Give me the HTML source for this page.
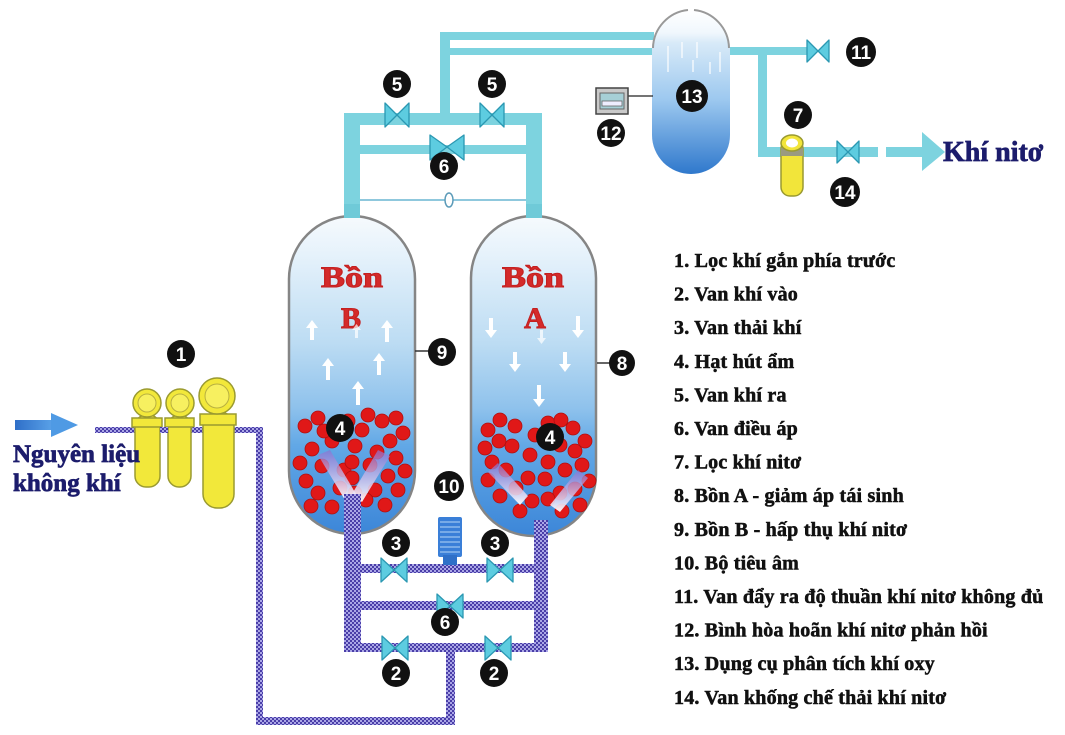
<!DOCTYPE html>
<html><head><meta charset="utf-8"><style>
html,body{margin:0;padding:0;background:#fff;}
svg{display:block;}
.lg{font-family:"Liberation Serif",serif;font-weight:bold;font-size:20px;fill:#111;stroke:#111;stroke-width:0.55;letter-spacing:0.2px;}
.n{font-family:"Liberation Sans",sans-serif;font-weight:bold;font-size:19px;fill:#fff;text-anchor:middle;}
.ttl{font-family:"Liberation Serif",serif;font-weight:bold;fill:#1c1c6c;stroke:#1c1c6c;stroke-width:0.7;}
.red{font-family:"Liberation Serif",serif;font-weight:bold;font-size:30px;fill:#d42a2a;stroke:#c42020;stroke-width:1;text-anchor:middle;}
</style></head><body>
<svg width="1065" height="735" viewBox="0 0 1065 735" xmlns="http://www.w3.org/2000/svg">
<defs>
<pattern id="chk" width="4" height="4" patternUnits="userSpaceOnUse">
<rect width="4" height="4" fill="#4a3ea8"/>
<rect x="0" y="0" width="2" height="2" fill="#aaa6e6"/>
<rect x="2" y="2" width="2" height="2" fill="#aaa6e6"/>
</pattern>
<linearGradient id="tg" x1="0" y1="0" x2="0" y2="1">
<stop offset="0" stop-color="#f6fafd"/>
<stop offset="0.12" stop-color="#e6f2fb"/>
<stop offset="0.4" stop-color="#bcdcf3"/>
<stop offset="0.6" stop-color="#8fc2ec"/>
<stop offset="0.72" stop-color="#62a8e6"/>
<stop offset="1" stop-color="#3c86d8"/>
</linearGradient>
<linearGradient id="tg13" x1="0" y1="0" x2="0" y2="1">
<stop offset="0" stop-color="#ffffff"/>
<stop offset="0.14" stop-color="#f0f7fd"/>
<stop offset="0.2" stop-color="#d8eaf8"/>
<stop offset="0.55" stop-color="#9cc8ef"/>
<stop offset="1" stop-color="#2f78cc"/>
</linearGradient>
<linearGradient id="ba" x1="0" y1="0" x2="1" y2="0">
<stop offset="0" stop-color="#2f6fc8"/>
<stop offset="1" stop-color="#5aa2e8"/>
</linearGradient>
<linearGradient id="va" x1="0" y1="1" x2="0" y2="0">
<stop offset="0" stop-color="#ffffff" stop-opacity="0.95"/>
<stop offset="1" stop-color="#8a70d0" stop-opacity="0.7"/>
</linearGradient>
</defs>

<!-- ===== Top cyan pipes ===== -->
<g fill="#7dd3df">
<rect x="440" y="32" width="214" height="8"/>
<rect x="450" y="48" width="204" height="7"/>
<rect x="440" y="32" width="10" height="88"/>
<rect x="344" y="113" width="198" height="12"/>
<rect x="344" y="145" width="198" height="9"/>
<rect x="344" y="113" width="16" height="106"/>
<rect x="526" y="113" width="16" height="106"/>
<rect x="728" y="47" width="82" height="8"/>
<rect x="758" y="47" width="9" height="110"/>
<rect x="758" y="147" width="120" height="10"/>
<rect x="886" y="147" width="38" height="10"/>
<polygon points="922,132 945,152 922,171"/>
</g>
<line x1="360" y1="200" x2="526" y2="200" stroke="#6ab6d2" stroke-width="1.5"/>
<ellipse cx="449" cy="200" rx="4" ry="7" fill="#fff" stroke="#5a9ab8" stroke-width="1.5"/>

<!-- ===== Tank 13 ===== -->
<rect x="652" y="10" width="78" height="164" rx="39" fill="url(#tg13)"/>
<path d="M653,48 A39,39 0 0 1 688,10" fill="none" stroke="#999" stroke-width="2"/>
<path d="M694,10 A39,39 0 0 1 729,48" fill="none" stroke="#999" stroke-width="2"/>
<g stroke="#fff" stroke-width="1.5" opacity="0.8">
<line x1="668" y1="46" x2="668" y2="72"/><line x1="682" y1="42" x2="682" y2="58"/>
<line x1="697" y1="42" x2="697" y2="58"/><line x1="710" y1="62" x2="710" y2="74"/>
<line x1="720" y1="52" x2="720" y2="72"/><line x1="693" y1="60" x2="693" y2="72"/>
</g>

<!-- Box 12 -->
<line x1="628" y1="96" x2="653" y2="96" stroke="#222" stroke-width="1.3"/>
<rect x="596" y="88" width="32" height="26" fill="#c9c9c9" stroke="#444" stroke-width="1.5"/>
<rect x="600" y="93" width="24" height="16" fill="#a6cfd6" stroke="#666" stroke-width="1"/>
<rect x="602" y="101" width="20" height="5" fill="#eef" stroke="#666" stroke-width="0.8"/>

<!-- Filter 7 -->
<rect x="781" y="140" width="22" height="56" rx="9" fill="#f2e53a" stroke="#9a9a30" stroke-width="1.5"/>
<rect x="781" y="148" width="22" height="8" fill="#9a9a80"/>
<ellipse cx="792" cy="143" rx="11" ry="8" fill="#f2e53a" stroke="#9a9a30" stroke-width="1.5"/>
<ellipse cx="792" cy="143" rx="6" ry="4.5" fill="#fff"/>

<!-- ===== Tanks ===== -->
<rect x="289" y="216" width="126" height="318" rx="63" fill="url(#tg)" stroke="#858585" stroke-width="2.5"/>
<rect x="471" y="216" width="125" height="320" rx="62" fill="url(#tg)" stroke="#858585" stroke-width="2.5"/>
<rect x="344" y="204" width="16" height="14" fill="#6fcad8"/>
<rect x="526" y="204" width="16" height="14" fill="#6fcad8"/>

<!-- label lines 9, 8 -->
<line x1="415" y1="351" x2="432" y2="351" stroke="#333" stroke-width="1.5"/>
<line x1="597" y1="363" x2="610" y2="363" stroke="#333" stroke-width="1.5"/>

<!-- tank text -->
<text x="352" y="287" class="red" textLength="62" lengthAdjust="spacingAndGlyphs">Bồn</text>
<text x="351" y="328" class="red">B</text>
<text x="533" y="287" class="red" textLength="62" lengthAdjust="spacingAndGlyphs">Bồn</text>
<text x="535" y="328" class="red">A</text>

<!-- white arrows tank B (up) -->
<g fill="#fff">
<path d="M310,340 h4 v-12 h4 l-6,-8 l-6,8 h4z"/>
<path d="M385,342 h4 v-14 h4 l-6,-8 l-6,8 h4z"/>
<path d="M326,380 h4 v-14 h4 l-6,-8 l-6,8 h4z"/>
<path d="M377,375 h4 v-14 h4 l-6,-8 l-6,8 h4z"/>
<path d="M356,405 h4 v-16 h4 l-6,-8 l-6,8 h4z"/>
<path d="M355,338 h3 v-8 h3 l-4.5,-6 l-4.5,6 h3z" opacity="0.7"/>
</g>
<!-- white arrows tank A (down) -->
<g fill="#fff">
<path d="M489,318 h4 v12 h4 l-6,8 l-6,-8 h4z"/>
<path d="M576,316 h4 v14 h4 l-6,8 l-6,-8 h4z"/>
<path d="M513,352 h4 v12 h4 l-6,8 l-6,-8 h4z"/>
<path d="M563,352 h4 v12 h4 l-6,8 l-6,-8 h4z"/>
<path d="M537,385 h4 v14 h4 l-6,8 l-6,-8 h4z"/>
<path d="M540,330 h3 v8 h3 l-4.5,6 l-4.5,-6 h3z" opacity="0.7"/>
</g>

<!-- beads -->
<g fill="#e01818" stroke="#b01010" stroke-width="0.8">
<circle cx="305" cy="426" r="7"/><circle cx="318" cy="418" r="7"/><circle cx="332" cy="441" r="7"/>
<circle cx="312" cy="449" r="7"/><circle cx="300" cy="463" r="7"/><circle cx="322" cy="466" r="7"/>
<circle cx="306" cy="481" r="7"/><circle cx="318" cy="493" r="7"/><circle cx="332" cy="507" r="7"/>
<circle cx="344" cy="470" r="7"/><circle cx="355" cy="446" r="7"/><circle cx="362" cy="430" r="7"/>
<circle cx="368" cy="415" r="7"/><circle cx="382" cy="421" r="7"/><circle cx="396" cy="418" r="7"/>
<circle cx="403" cy="433" r="7"/><circle cx="390" cy="441" r="7"/><circle cx="377" cy="452" r="7"/>
<circle cx="396" cy="458" r="7"/><circle cx="405" cy="471" r="7"/><circle cx="388" cy="476" r="7"/>
<circle cx="375" cy="490" r="7"/><circle cx="398" cy="490" r="7"/><circle cx="385" cy="505" r="7"/>
<circle cx="366" cy="500" r="7"/><circle cx="352" cy="462" r="7"/><circle cx="352" cy="478" r="7"/>
<circle cx="355" cy="493" r="7"/><circle cx="340" cy="488" r="7"/><circle cx="370" cy="465" r="7"/>
<circle cx="324" cy="431" r="7"/><circle cx="348" cy="421" r="7"/><circle cx="311" cy="506" r="7"/>
<circle cx="488" cy="430" r="7"/><circle cx="500" cy="420" r="7"/><circle cx="515" cy="426" r="7"/>
<circle cx="485" cy="448" r="7"/><circle cx="499" cy="441" r="7"/><circle cx="512" cy="446" r="7"/>
<circle cx="492" cy="462" r="7"/><circle cx="506" cy="470" r="7"/><circle cx="488" cy="480" r="7"/>
<circle cx="516" cy="488" r="7"/><circle cx="500" cy="496" r="7"/><circle cx="528" cy="478" r="7"/>
<circle cx="530" cy="455" r="7"/><circle cx="535" cy="435" r="7"/><circle cx="548" cy="423" r="7"/>
<circle cx="561" cy="420" r="7"/><circle cx="573" cy="428" r="7"/><circle cx="585" cy="441" r="7"/>
<circle cx="575" cy="451" r="7"/><circle cx="560" cy="445" r="7"/><circle cx="548" cy="462" r="7"/>
<circle cx="565" cy="470" r="7"/><circle cx="582" cy="465" r="7"/><circle cx="589" cy="481" r="7"/>
<circle cx="575" cy="489" r="7"/><circle cx="560" cy="493" r="7"/><circle cx="545" cy="479" r="7"/>
<circle cx="580" cy="505" r="7"/><circle cx="562" cy="511" r="7"/><circle cx="532" cy="501" r="7"/>
<circle cx="520" cy="511" r="7"/><circle cx="548" cy="499" r="7"/>
</g>

<!-- V arrows -->
<g fill="url(#va)">
<polygon points="345,500 318,455 330,450 356,494"/>
<polygon points="352,494 378,450 390,456 362,502"/>
<polygon points="520,505 488,472 498,463 528,496"/>
<polygon points="550,505 578,470 588,478 560,512"/>
</g>

<!-- ===== Purple pipes ===== -->
<g fill="url(#chk)">
<rect x="95" y="427" width="168" height="6"/>
<rect x="256" y="427" width="7" height="298"/>
<rect x="256" y="717" width="199" height="8"/>
<rect x="446" y="648" width="9" height="77"/>
<rect x="344" y="494" width="17" height="158"/>
<rect x="534" y="520" width="14" height="132"/>
<rect x="344" y="564" width="204" height="9"/>
<rect x="344" y="601" width="204" height="9"/>
<rect x="344" y="643" width="204" height="9"/>
</g>

<!-- Muffler 10 -->
<rect x="438" y="517" width="24" height="40" rx="2" fill="#3a7fd8"/>
<g stroke="#9cc4f0" stroke-width="1.2">
<line x1="440" y1="522" x2="460" y2="522"/><line x1="440" y1="527" x2="460" y2="527"/>
<line x1="440" y1="532" x2="460" y2="532"/><line x1="440" y1="537" x2="460" y2="537"/>
<line x1="440" y1="542" x2="460" y2="542"/><line x1="440" y1="547" x2="460" y2="547"/>
<line x1="440" y1="552" x2="460" y2="552"/>
</g>
<rect x="443" y="555" width="14" height="10" fill="#2f70c8"/>

<!-- ===== Filters 1 ===== -->
<g stroke="#9a9a30" stroke-width="1.5" fill="#f2e83a">
<rect x="135" y="415" width="25" height="72" rx="11"/>
<rect x="168" y="415" width="23" height="72" rx="11"/>
<rect x="203" y="412" width="31" height="96" rx="14"/>
<rect x="132" y="418" width="30" height="9"/>
<rect x="165" y="418" width="29" height="9"/>
<rect x="200" y="414" width="36" height="11"/>
<circle cx="147" cy="403" r="14"/>
<circle cx="180" cy="403" r="14"/>
<circle cx="217" cy="396" r="18"/>
</g>
<g fill="#f7f060" stroke="#b8b040" stroke-width="1">
<circle cx="147" cy="403" r="9"/><circle cx="180" cy="403" r="9"/><circle cx="217" cy="396" r="12"/>
</g>
<g fill="url(#chk)">
<rect x="160" y="427" width="8" height="6"/><rect x="193" y="427" width="8" height="6"/>
<rect x="236" y="427" width="27" height="6"/>
</g>

<!-- Left blue arrow -->
<rect x="15" y="420" width="38" height="10" fill="url(#ba)"/>
<polygon points="51,413 78,425 51,437" fill="#4f9ae4"/>

<!-- ===== Valves ===== -->
<g fill="#5dcce0" stroke="#2b98b2" stroke-width="1.3" stroke-linejoin="round">
<polygon points="385,103 397,115 385,127"/><polygon points="409,103 397,115 409,127"/>
<polygon points="480,103 492,115 480,127"/><polygon points="504,103 492,115 504,127"/>
<polygon points="430,135 447,147 430,160"/><polygon points="464,135 447,147 464,160"/>
<polygon points="807,40 818,51 807,62"/><polygon points="829,40 818,51 829,62"/>
<polygon points="837,141 848,152 837,163"/><polygon points="859,141 848,152 859,163"/>
<polygon points="381,558 394,570 381,582"/><polygon points="407,558 394,570 407,582"/>
<polygon points="487,558 500,570 487,582"/><polygon points="513,558 500,570 513,582"/>
<polygon points="437,594 450,606 437,618"/><polygon points="463,594 450,606 463,618"/>
<polygon points="382,636 395,648 382,660"/><polygon points="408,636 395,648 408,660"/>
<polygon points="485,636 498,648 485,660"/><polygon points="511,636 498,648 511,660"/>
</g>

<!-- ===== Number badges ===== -->
<g fill="#111">
<circle cx="397" cy="84" r="14"/><circle cx="492" cy="84" r="14"/>
<circle cx="444" cy="166" r="14"/><circle cx="692" cy="96" r="16"/>
<circle cx="611" cy="133" r="14"/><circle cx="861" cy="52" r="15"/>
<circle cx="798" cy="115" r="14"/><circle cx="845" cy="192" r="15"/>
<circle cx="442" cy="352" r="14"/><circle cx="622" cy="363" r="13"/>
<circle cx="340" cy="428" r="14"/><circle cx="550" cy="437" r="14"/>
<circle cx="449" cy="486" r="15"/>
<circle cx="396" cy="543" r="14"/><circle cx="495" cy="543" r="14"/>
<circle cx="445" cy="622" r="14"/>
<circle cx="396" cy="673" r="14"/><circle cx="494" cy="673" r="14"/>
<circle cx="181" cy="354" r="14"/>
</g>
<g class="n">
<text x="397" y="91" class="n">5</text><text x="492" y="91" class="n">5</text>
<text x="444" y="173" class="n">6</text><text x="692" y="103" class="n" font-size="20">13</text>
<text x="611" y="140" class="n">12</text><text x="861" y="59" class="n">11</text>
<text x="798" y="122" class="n">7</text><text x="845" y="199" class="n">14</text>
<text x="442" y="359" class="n">9</text><text x="622" y="370" class="n">8</text>
<text x="340" y="435" class="n">4</text><text x="550" y="444" class="n">4</text>
<text x="449" y="493" class="n">10</text>
<text x="396" y="550" class="n">3</text><text x="495" y="550" class="n">3</text>
<text x="445" y="629" class="n">6</text>
<text x="396" y="680" class="n">2</text><text x="494" y="680" class="n">2</text>
<text x="181" y="361" class="n">1</text>
</g>

<!-- ===== Titles ===== -->
<text x="943" y="161" class="ttl" font-size="28">Khí nitơ</text>
<text x="13" y="462" class="ttl" font-size="25">Nguyên liệu</text>
<text x="13" y="491" class="ttl" font-size="25">không khí</text>

<!-- ===== Legend ===== -->
<g>
<text x="674" y="267" class="lg">1. Lọc khí gắn phía trước</text>
<text x="674" y="300.6" class="lg">2. Van khí vào</text>
<text x="674" y="334.2" class="lg">3. Van thải khí</text>
<text x="674" y="367.8" class="lg">4. Hạt hút ẩm</text>
<text x="674" y="401.4" class="lg">5. Van khí ra</text>
<text x="674" y="435" class="lg">6. Van điều áp</text>
<text x="674" y="468.6" class="lg">7. Lọc khí nitơ</text>
<text x="674" y="502.2" class="lg">8. Bồn A - giảm áp tái sinh</text>
<text x="674" y="535.8" class="lg">9. Bồn B - hấp thụ khí nitơ</text>
<text x="674" y="569.4" class="lg">10. Bộ tiêu âm</text>
<text x="674" y="603" class="lg">11. Van đẩy ra độ thuần khí nitơ không đủ</text>
<text x="674" y="636.6" class="lg">12. Bình hòa hoãn khí nitơ phản hồi</text>
<text x="674" y="670.2" class="lg">13. Dụng cụ phân tích khí oxy</text>
<text x="674" y="703.8" class="lg">14. Van khống chế thải khí nitơ</text>
</g>
</svg>
</body></html>
